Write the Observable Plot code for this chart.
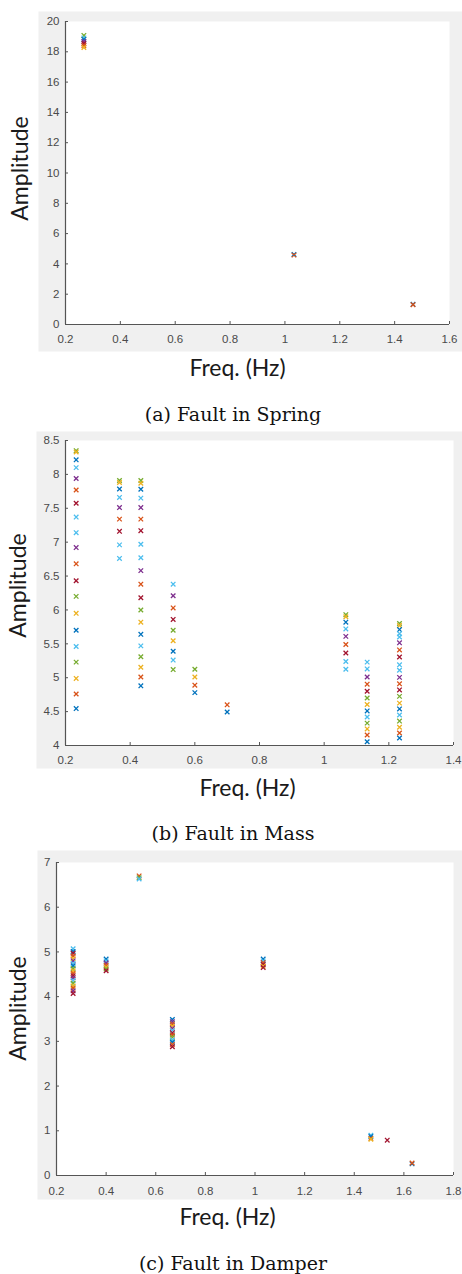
<!DOCTYPE html>
<html>
<head>
<meta charset="utf-8">
<script src="https://cdn.jsdelivr.net/npm/d3@7"></script>
<script src="https://cdn.jsdelivr.net/npm/@observablehq/plot@0.6"></script>
<style>
  html, body { margin: 0; padding: 0; background: #ffffff; }
  #page { position: relative; width: 462px; height: 1274px; overflow: hidden; }
  .panel { position: absolute; left: 0; width: 462px; }
  .caption { position: absolute; left: 0; width: 466px; text-align: center;
    font-family: "DejaVu Serif", "Liberation Serif", serif; font-size: 19px; line-height: 20px; color: #111; }
</style>
</head>
<body>
<div id="page"></div>
<script>
// Series codes (MATLAB default colour order is applied through the colour scale)
const seriesNames = [1, 2, 3, 4, 5, 6, 7];

// (a) Fault in Spring
const springFreq = [0.267, 1.033, 1.467];
const springAmp = [
  [19.08, 18.92, 18.82, 18.68, 18.55, 18.42, 18.28],
  [4.62, 4.58],
  [1.33, 1.30]
];
const springSeries = [
  [5, 6, 1, 4, 7, 2, 3],
  [1, 2],
  [1, 2]
];
const springXTicks = [0.2, 0.4, 0.6, 0.8, 1, 1.2, 1.4, 1.6];
const springYTicks = [0, 2, 4, 6, 8, 10, 12, 14, 16, 18, 20];

// (b) Fault in Mass
const massFreq = [0.233, 0.367, 0.433, 0.533, 0.6, 0.7, 1.067, 1.133, 1.233];
const massAmp = [
  [8.35, 8.33, 8.215, 8.10, 7.94, 7.77, 7.575, 7.37, 7.14, 6.92, 6.68, 6.43, 6.20, 5.95, 5.70, 5.46, 5.23, 4.99, 4.76, 4.545],
  [7.91, 7.88, 7.785, 7.66, 7.51, 7.34, 7.16, 6.96, 6.76],
  [7.91, 7.87, 7.78, 7.65, 7.51, 7.34, 7.17, 6.97, 6.77, 6.58, 6.38, 6.18, 6.00, 5.82, 5.64, 5.47, 5.31, 5.155, 5.01, 4.88],
  [6.38, 6.21, 6.03, 5.86, 5.70, 5.545, 5.39, 5.26, 5.12],
  [5.125, 5.01, 4.89, 4.78],
  [4.60, 4.495],
  [5.93, 5.90, 5.82, 5.72, 5.61, 5.49, 5.365, 5.24, 5.125],
  [5.23, 5.13, 5.01, 4.905, 4.80, 4.70, 4.605, 4.51, 4.42, 4.33, 4.245, 4.155, 4.055],
  [5.80, 5.77, 5.71, 5.65, 5.60, 5.515, 5.41, 5.305, 5.19, 5.11, 5.005, 4.91, 4.82, 4.725, 4.625, 4.54, 4.45, 4.36, 4.27, 4.185, 4.11]
];
const massSeries = [
  [5, 3, 1, 6, 4, 2, 7, 6, 6, 4, 2, 7, 5, 3, 1, 6, 5, 3, 2, 1],
  [5, 3, 1, 6, 4, 2, 7, 6, 6],
  [5, 3, 1, 6, 4, 2, 7, 6, 6, 4, 2, 7, 5, 3, 1, 6, 5, 3, 2, 1],
  [6, 4, 2, 7, 5, 3, 1, 6, 5],
  [5, 3, 2, 1],
  [2, 1],
  [5, 3, 1, 6, 4, 2, 7, 6, 6],
  [6, 6, 4, 2, 7, 5, 3, 1, 6, 5, 3, 2, 1],
  [5, 3, 1, 6, 6, 4, 2, 7, 6, 6, 4, 2, 7, 5, 3, 1, 6, 5, 3, 2, 1]
];
const massXTicks = [0.2, 0.4, 0.6, 0.8, 1, 1.2, 1.4];
const massYTicks = [4, 4.5, 5, 5.5, 6, 6.5, 7, 7.5, 8, 8.5];

// (c) Fault in Damper
const damperFreq = [0.267, 0.4, 0.533, 0.667, 1.033, 1.467, 1.533, 1.633];
const damperAmp = [
  [5.07, 5.01, 4.97, 4.91, 4.85, 4.80, 4.74, 4.69, 4.63, 4.58, 4.52, 4.47, 4.42, 4.36, 4.30, 4.24, 4.19, 4.13, 4.07],
  [4.84, 4.80, 4.75, 4.70, 4.66, 4.62, 4.58],
  [6.70, 6.66, 6.63],
  [3.49, 3.44, 3.39, 3.34, 3.29, 3.24, 3.19, 3.14, 3.09, 3.03, 2.98, 2.93, 2.88],
  [4.84, 4.80, 4.76, 4.72, 4.68, 4.65],
  [0.90, 0.87, 0.83, 0.81],
  [0.79],
  [0.26, 0.28]
];
const damperSeries = [
  [6, 1, 7, 2, 3, 4, 6, 1, 5, 3, 2, 7, 4, 6, 5, 3, 2, 4, 7],
  [1, 6, 4, 2, 3, 5, 7],
  [2, 5, 6],
  [1, 4, 2, 3, 4, 6, 7, 2, 5, 6, 1, 2, 7],
  [1, 6, 2, 7, 3, 7],
  [6, 1, 2, 3],
  [7],
  [1, 2]
];
const damperXTicks = [0.2, 0.4, 0.6, 0.8, 1, 1.2, 1.4, 1.6, 1.8];
const damperYTicks = [0, 1, 2, 3, 4, 5, 6, 7];

const captions = ["(a) Fault in Spring", "(b) Fault in Mass", "(c) Fault in Damper"];
const xLabel = "Freq. (Hz)";
const yLabel = "Amplitude";

const matlabColors = ["#0072BD", "#D95319", "#EDB120", "#7E2F8E", "#77AC30", "#4DBEEE", "#A2142F"];

function toRows(freq, amp, ser) {
  return freq.flatMap((f, i) => amp[i].map((a, j) => ({f, a, s: ser[i][j]})));
}

function panel(cfg) {
  const rows = toRows(cfg.freq, cfg.amp, cfg.ser);
  const tickFont = "'Liberation Sans', Arial, Helvetica, sans-serif";
  const labelFont = "Lato, 'Open Sans', sans-serif";
  return Plot.plot({
    width: 462,
    height: cfg.height,
    marginLeft: cfg.ml, marginRight: cfg.mr, marginTop: cfg.mt, marginBottom: cfg.mb,
    x: {domain: cfg.xDomain},
    y: {domain: cfg.yDomain},
    color: {type: "ordinal", domain: seriesNames, range: matlabColors},
    style: {background: "transparent", color: "#4a4a4a", overflow: "visible"},
    marks: [
      Plot.frame({fill: "#f0f0f0", stroke: null, insetLeft: cfg.g[0], insetTop: cfg.g[1], insetRight: cfg.g[2], insetBottom: cfg.g[3]}),
      Plot.frame({fill: "white", stroke: null}),
      Plot.ruleX([cfg.xDomain[0]], {stroke: "#555", strokeWidth: 1.2}),
      Plot.ruleY([cfg.yDomain[0]], {stroke: "#555", strokeWidth: 1.2}),
      Plot.axisX({ticks: cfg.xTicks, tickFormat: "~g", tickSize: -3, tickPadding: cfg.xpad, label: null,
        fontSize: 11.5, fontFamily: tickFont, stroke: "#555", fill: "#4a4a4a"}),
      Plot.axisY({ticks: cfg.yTicks, tickFormat: "~g", tickSize: -3, tickPadding: 9, label: null,
        fontSize: 11.5, fontFamily: tickFont, stroke: "#555", fill: "#4a4a4a"}),
      Plot.dot(rows, {x: "f", y: "a", stroke: "s", symbol: "times", r: 2.2, strokeWidth: 1.3}),
      Plot.text([xLabel], {frameAnchor: "bottom", dx: cfg.xl[0], dy: cfg.xl[1], fontSize: 23,
        fontFamily: labelFont, fill: "#1a1a1a", textAnchor: "middle", lineAnchor: "middle"}),
      Plot.text([yLabel], {frameAnchor: "left", dx: cfg.yl[0], dy: cfg.yl[1], rotate: -90, fontSize: 23,
        fontFamily: labelFont, fill: "#1a1a1a", textAnchor: "middle", lineAnchor: "middle"})
    ]
  });
}

const configs = [
  {top: 0, height: 390, mt: 21, mb: 66, ml: 65, mr: 13, g: [-27, -10, -13, -27],
   xl: [-20, 44], yl: [-44.5, -4.5], xpad: 13, capTop: 404,
   freq: springFreq, amp: springAmp, ser: springSeries, xDomain: [0.2, 1.6], yDomain: [0, 20],
   xTicks: springXTicks, yTicks: springYTicks},
  {top: 420, height: 390, mt: 20, mb: 65, ml: 65, mr: 9, g: [-29, -9, -9, -23],
   xl: [-12, 43], yl: [-46.7, -7.5], xpad: 13, capTop: 823,
   freq: massFreq, amp: massAmp, ser: massSeries, xDomain: [0.2, 1.4], yDomain: [4, 8.5],
   xTicks: massXTicks, yTicks: massYTicks},
  {top: 840, height: 400, mt: 22, mb: 65, ml: 56, mr: 9, g: [-19, -12, -9, -24],
   xl: [-27.5, 42], yl: [-37.7, -10.5], xpad: 14, capTop: 1253,
   freq: damperFreq, amp: damperAmp, ser: damperSeries, xDomain: [0.2, 1.8], yDomain: [0, 7],
   xTicks: damperXTicks, yTicks: damperYTicks}
];

const page = document.getElementById("page");
configs.forEach((cfg, i) => {
  const div = document.createElement("div");
  div.className = "panel";
  div.style.top = cfg.top + "px";
  div.appendChild(panel(cfg));
  page.appendChild(div);
  const cap = document.createElement("div");
  cap.className = "caption";
  cap.style.top = cfg.capTop + "px";
  cap.textContent = captions[i];
  page.appendChild(cap);
});
</script>
</body>
</html>
